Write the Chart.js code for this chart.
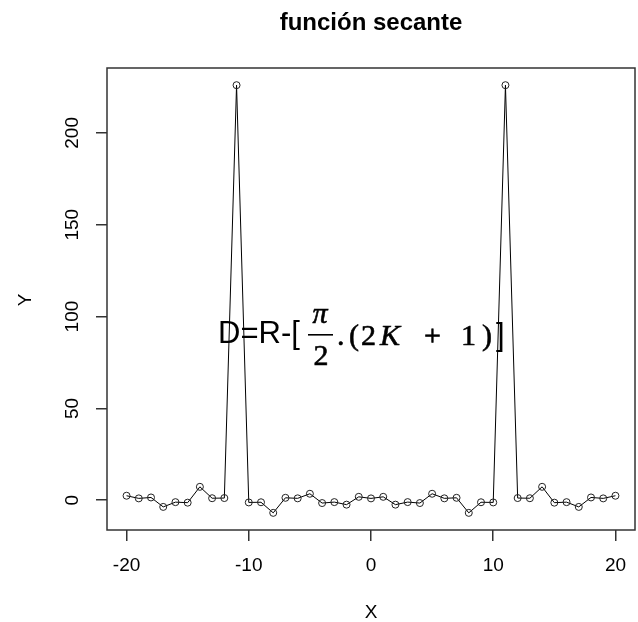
<!DOCTYPE html>
<html>
<head>
<meta charset="utf-8">
<script src="https://cdn.jsdelivr.net/npm/chart.js@4.4.1/dist/chart.umd.min.js"></script>
<style>
  html, body { margin: 0; padding: 0; background: #fff; overflow: hidden; }
  canvas { display: block; }
</style>
</head>
<body>
<canvas id="secChart" width="640" height="622"></canvas>
<script>
// valores: sec(x) en los enteros -20..20
const xValues = [-20, -19, -18, -17, -16, -15, -14, -13, -12, -11, -10, -9, -8, -7, -6, -5, -4, -3, -2, -1,
                 0, 1, 2, 3, 4, 5, 6, 7, 8, 9, 10, 11, 12, 13, 14, 15, 16, 17, 18, 19, 20];
const yValues = [2.45, 1.01, 1.51, -3.63, -1.04, -1.32, 7.31, 1.10, 1.19, 225.95, -1.19, -1.10, -6.87, 1.33, 1.04, 3.53, -1.53, -1.01, -2.40, 1.85,
                 1.0, 1.85, -2.40, -1.01, -1.53, 3.53, 1.04, 1.33, -6.87, -1.10, -1.19, 225.95, 1.19, 1.10, 7.31, -1.32, -1.04, -3.63, 1.51, 1.01, 2.45];
const xTicks = [-20, -10, 0, 10, 20];
const yTicks = [0, 50, 100, 150, 200];
const chartTitle = 'función secante';
const xTitle = 'X';
const yTitle = 'Y';

const sans = '"Liberation Sans", Arial, sans-serif';
const serif = '"Liberation Serif", "Times New Roman", serif';

const points = xValues.map((x, i) => ({ x: x, y: yValues[i] }));

// texto un poco mas grueso, parecido a Cambria Math
function boldish(ctx, txt, x, y) {
  ctx.fillText(txt, x, y);
  ctx.strokeText(txt, x, y);
}

const rTextPlugin = {
  id: 'rText',
  afterDraw(chart) {
    const { ctx, chartArea, scales } = chart;
    ctx.save();

    // caja del grafico
    ctx.strokeStyle = '#333';
    ctx.lineWidth = 1.5;
    ctx.strokeRect(chartArea.left, chartArea.top, chartArea.right - chartArea.left, chartArea.bottom - chartArea.top);

    ctx.fillStyle = '#000';
    const cx = (chartArea.left + chartArea.right) / 2;
    const cy = (chartArea.top + chartArea.bottom) / 2;

    // titulo
    ctx.font = 'bold 24px ' + sans;
    ctx.textAlign = 'center';
    ctx.textBaseline = 'alphabetic';
    ctx.fillText(chartTitle, cx, 30);

    // etiquetas del eje y, giradas como en R
    ctx.font = '19px ' + sans;
    ctx.textBaseline = 'middle';
    yTicks.forEach(v => {
      const py = scales.y.getPixelForValue(v);
      ctx.save();
      ctx.translate(73, py);
      ctx.rotate(-Math.PI / 2);
      ctx.fillText(String(v), 0, 0);
      ctx.restore();
    });

    // titulos de los ejes
    ctx.fillText(xTitle, cx, 613);
    ctx.save();
    ctx.translate(26, cy + 1);
    ctx.rotate(-Math.PI / 2);
    ctx.fillText(yTitle, 0, 0);
    ctx.restore();

    // formula
    ctx.textAlign = 'left';
    ctx.textBaseline = 'alphabetic';
    ctx.font = '31px ' + sans;
    ctx.fillText('D=R-[', 218, 343);

    ctx.strokeStyle = '#000';
    ctx.lineWidth = 0.6;
    ctx.textAlign = 'center';
    ctx.font = 'italic 30px ' + serif;
    boldish(ctx, 'π', 320, 323);
    ctx.font = '30px ' + serif;
    boldish(ctx, '2', 321, 365);
    ctx.fillRect(308, 334, 25, 1.6);
    ctx.textAlign = 'left';
    boldish(ctx, '.', 337, 345);
    boldish(ctx, '(', 349, 345);
    boldish(ctx, '2', 361, 345);
    ctx.font = 'italic 30px ' + serif;
    boldish(ctx, 'K', 380, 345);
    ctx.font = '30px ' + serif;
    boldish(ctx, '+', 424, 345);
    boldish(ctx, '1', 461, 345);
    boldish(ctx, ')', 482, 345);
    ctx.font = '31px ' + sans;
    ctx.fillText(']', 496, 345);

    ctx.restore();
  }
};

new Chart(document.getElementById('secChart'), {
  type: 'scatter',
  data: {
    datasets: [{
      data: points,
      showLine: true,
      borderColor: '#000',
      borderWidth: 1,
      pointStyle: 'circle',
      pointRadius: 3.5,
      pointBorderWidth: 1,
      pointBorderColor: '#222',
      pointBackgroundColor: 'rgba(0,0,0,0)',
      tension: 0
    }]
  },
  options: {
    responsive: false,
    devicePixelRatio: 1,
    animation: false,
    layout: { padding: { top: 68, right: 1, left: 0, bottom: 0 } },
    plugins: {
      legend: { display: false },
      tooltip: { enabled: false }
    },
    scales: {
      x: {
        type: 'linear',
        min: -21.6,
        max: 21.6,
        afterBuildTicks: s => { s.ticks = xTicks.map(v => ({ value: v })); },
        afterFit: s => { s.height = 92; },
        grid: { drawOnChartArea: false, drawTicks: true, tickLength: 11, color: '#333', lineWidth: 1.5 },
        border: { display: false },
        ticks: { font: { family: sans, size: 19 }, color: '#000', padding: 13, maxRotation: 0, autoSkip: false }
      },
      y: {
        type: 'linear',
        min: -16.2,
        max: 235.3,
        afterBuildTicks: s => { s.ticks = yTicks.map(v => ({ value: v })); },
        afterFit: s => { s.width = 107; },
        grid: { drawOnChartArea: false, drawTicks: true, tickLength: 11, color: '#333', lineWidth: 1.5 },
        border: { display: false },
        ticks: { display: false }
      }
    }
  },
  plugins: [rTextPlugin]
});
</script>
</body>
</html>
